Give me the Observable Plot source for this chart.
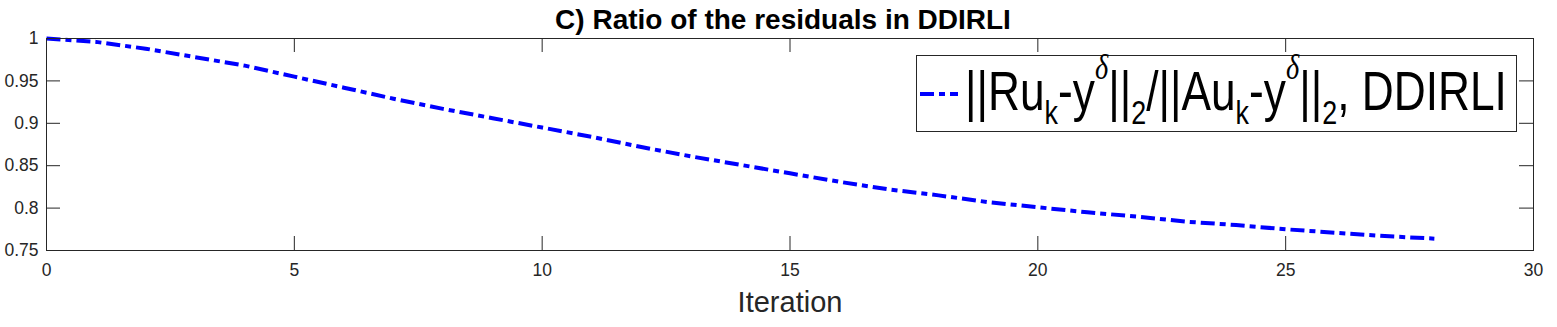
<!DOCTYPE html>
<html>
<head>
<meta charset="utf-8">
<script src="https://cdn.jsdelivr.net/npm/d3@7"></script>
<script src="https://cdn.jsdelivr.net/npm/@observablehq/plot@0.6"></script>
<style>
  html, body { margin: 0; padding: 0; background: white; }
  #wrap { position: relative; width: 1557px; height: 327px; overflow: hidden; }
  #wrap svg { display: block; }
  #legend { position: absolute; left: 0; top: 0; pointer-events: none; }
</style>
</head>
<body>
<div id="wrap"></div>
<script>
// ---- data ----
const iterations = [0,1,2,3,4,5,6,7,8,9,10,11,12,13,14,15,16,17,18,19,20,21,22,23,24,25,26,27,28];
const ratio = [1.000,0.996,0.988,0.978,0.968,0.955,0.942,0.929,0.917,0.906,0.895,0.884,0.872,0.861,0.851,0.841,0.831,0.822,0.815,0.807,0.801,0.795,0.790,0.784,0.780,0.775,0.771,0.767,0.764];
const xTicks = [0,5,10,15,20,25,30];
const xTickLabels = ["0","5","10","15","20","25","30"];
const yTicks = [0.75,0.8,0.85,0.9,0.95,1];
const yTickLabels = ["0.75","0.8","0.85","0.9","0.95","1"];
const titleText = "C) Ratio of the residuals in DDIRLI";
const xLabelText = "Iteration";
const seriesName = "DDIRLI";

const rows = iterations.map((it, i) => ({iteration: it, ratio: ratio[i]}));

const W = 1557, H = 327;
const mL = 46, mR = 24, mT = 38, mB = 77;
const plotW = W - mL - mR, plotH = H - mT - mB;
const tickLen = 14;
const axisColor = "#262626";
const font = "'Liberation Sans', Arial, Helvetica, sans-serif";

const chart = Plot.plot({
  width: W, height: H,
  marginLeft: mL, marginRight: mR, marginTop: mT, marginBottom: mB,
  x: {domain: [0, 30]},
  y: {domain: [0.75, 1]},
  style: {fontFamily: font, fontSize: "17.5px", color: axisColor, background: "white"},
  marks: [
    Plot.line(rows, {x: "iteration", y: "ratio", stroke: "#0000ff", strokeWidth: 4,
      strokeDasharray: "14,5,6,5", strokeLinecap: "butt"}),
    Plot.frame({stroke: axisColor, strokeWidth: 1}),
    Plot.tickX(xTicks, {x: d => d, stroke: axisColor, insetTop: plotH - tickLen}),
    Plot.tickX(xTicks, {x: d => d, stroke: axisColor, insetBottom: plotH - tickLen}),
    Plot.tickY(yTicks, {y: d => d, stroke: axisColor, insetRight: plotW - tickLen}),
    Plot.tickY(yTicks, {y: d => d, stroke: axisColor, insetLeft: plotW - tickLen}),
    Plot.axisX({ticks: xTicks, tickSize: 0, tickPadding: 13, label: null,
      tickFormat: d => xTickLabels[xTicks.indexOf(d)], fill: axisColor}),
    Plot.axisY({ticks: yTicks, tickSize: 0, tickPadding: 8, label: null,
      tickFormat: d => yTickLabels[yTicks.indexOf(d)], fill: axisColor}),
    Plot.text([titleText], {frameAnchor: "top", lineAnchor: "middle", dy: -18.6, dx: -7, text: d => d,
      fontSize: 28, fontWeight: "bold", fill: "black"}),
    Plot.text([xLabelText], {frameAnchor: "bottom", lineAnchor: "middle", dy: 52.7, text: d => d,
      fontSize: 29, fill: axisColor})
  ]
});
document.getElementById("wrap").appendChild(chart);

// ---- legend overlay ----
const lg = d3.select("#wrap").append("svg").attr("id", "legend")
  .attr("width", W).attr("height", H);
const bx = 916.5, by = 55.5, bw = 600, bh = 76;
lg.append("rect").attr("x", bx).attr("y", by).attr("width", bw).attr("height", bh)
  .attr("fill", "white").attr("stroke", axisColor).attr("stroke-width", 1);
lg.append("line").attr("x1", 920).attr("x2", 958).attr("y1", 94).attr("y2", 94)
  .attr("stroke", "#0000ff").attr("stroke-width", 4)
  .attr("stroke-dasharray", "14,5,6,5");

const big = 56, sub = 34, sup = 36;
const parts = [
  {t: "||Ru", s: big, dy: 0},
  {t: "k", s: sub, dy: 14},
  {t: "-y", s: big, dy: -14},
  {t: "\u03B4", s: sup, dy: -31, it: true},
  {t: "||", s: big, dy: 31},
  {t: "2", s: sub, dy: 14},
  {t: "/||Au", s: big, dy: -14},
  {t: "k", s: sub, dy: 14},
  {t: "-y", s: big, dy: -14},
  {t: "\u03B4", s: sup, dy: -31, it: true},
  {t: "||", s: big, dy: 31},
  {t: "2", s: sub, dy: 14},
  {t: ", " + seriesName, s: big, dy: -14}
];
const tx = 965, ty = 110, targetW = 542;
const g = lg.append("g");
const txt = g.append("text").attr("x", 0).attr("y", 0)
  .attr("font-family", font).attr("fill", "black");
parts.forEach(p => {
  const ts = txt.append("tspan").attr("font-size", p.s).attr("dy", p.dy).text(p.t);
  if (p.it) ts.attr("font-style", "italic").attr("font-family", "'Liberation Serif', 'DejaVu Serif', serif");
});
const natural = txt.node().getComputedTextLength();
const sx = natural > 0 ? targetW / natural : 0.8;
g.attr("transform", `translate(${tx},${ty}) scale(${sx},1)`);
</script>
</body>
</html>
